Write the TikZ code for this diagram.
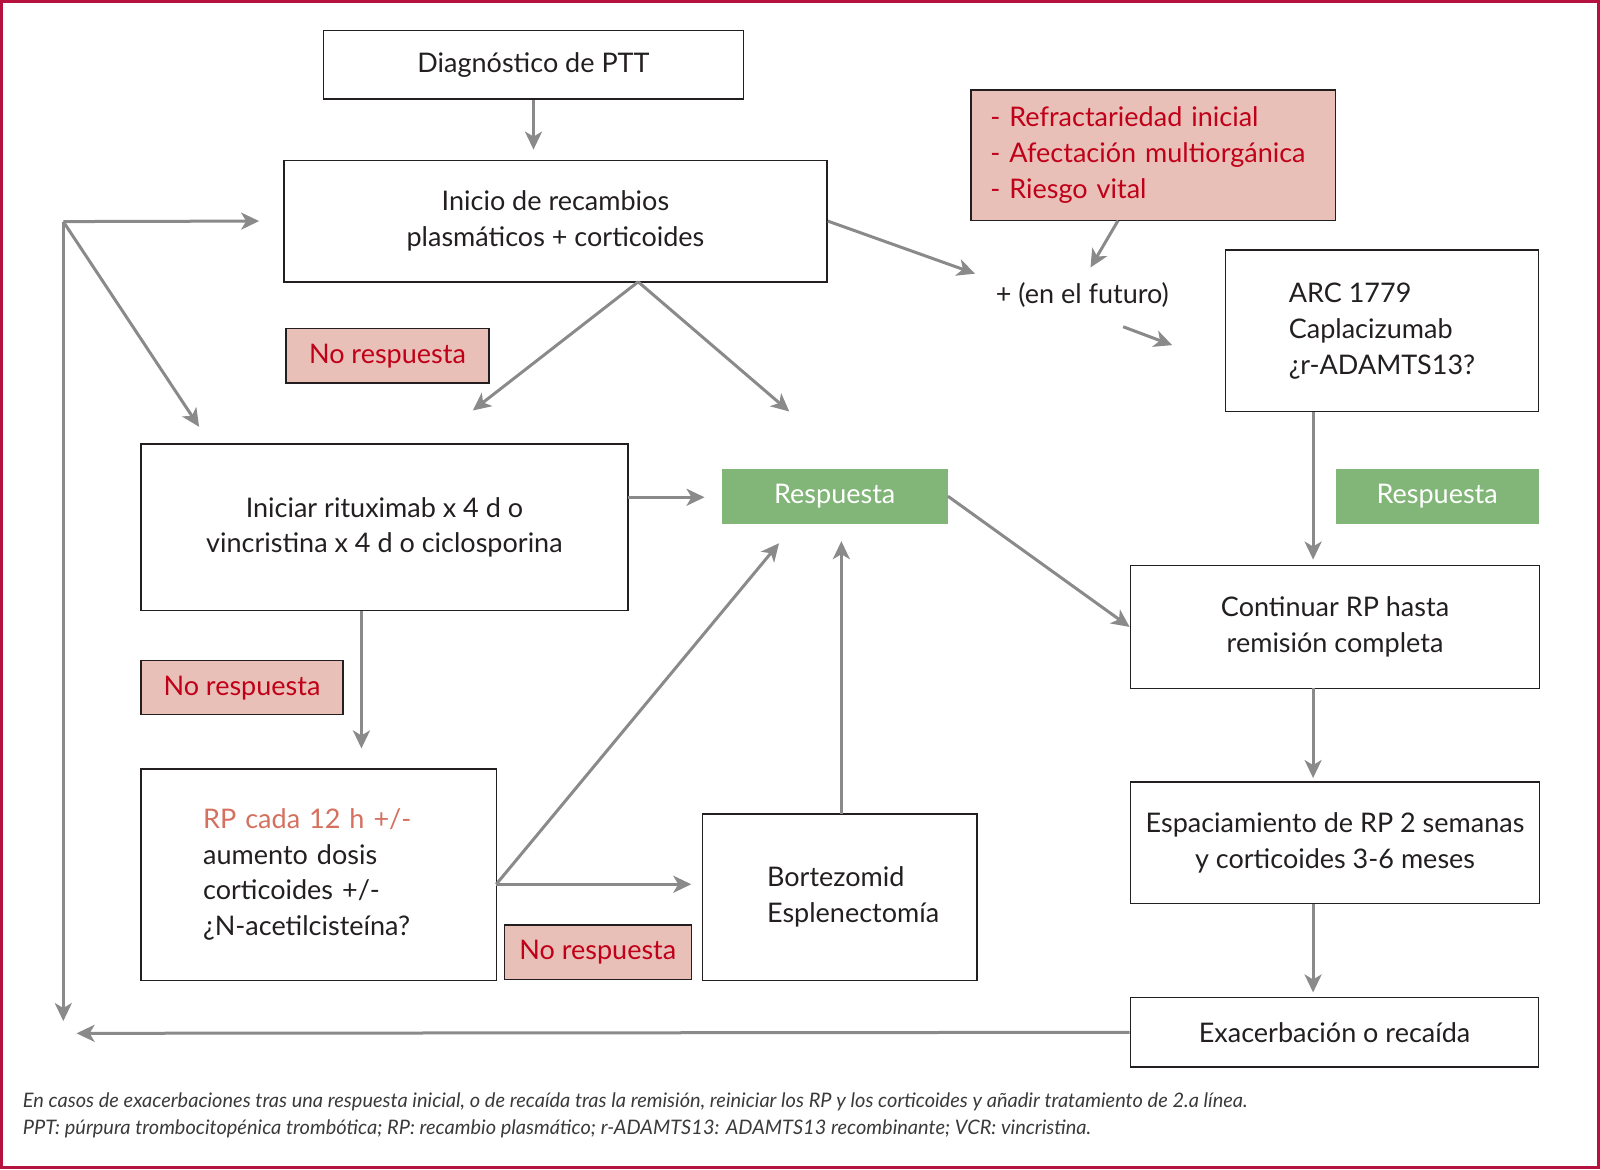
\documentclass[tikz,border=0pt]{standalone}
\usepackage{fontspec}
\setmainfont{Lato}
\newfontfamily\footfam{Lato Italic}
\usetikzlibrary{arrows.meta}
\definecolor{redc}{HTML}{C00018}
\definecolor{pinkc}{HTML}{E8C0B8}
\definecolor{greenc}{HTML}{82B678}
\definecolor{salmonc}{HTML}{D4705F}
\definecolor{arrc}{HTML}{8A8A8A}
\definecolor{framec}{HTML}{B5123F}
\definecolor{boxc}{HTML}{231F20}
\definecolor{footc}{HTML}{3A3A3A}
\tikzset{
  mainf/.style={font=\fontsize{13.5}{17.9}\selectfont},
  box/.style={draw=boxc, line width=0.7pt, inner sep=0pt, mainf, text=boxc, align=center},
  lbox/.style={box, align=left},
  nrbox/.style={box, fill=pinkc, text=redc},
  respbox/.style={draw=none, fill=greenc, text=white, inner sep=0pt, mainf},
  arr/.style={draw=arrc, line width=1.5pt, -{Stealth[length=9pt,width=8.5pt,inset=2.5pt]}},
  footnote/.style={anchor=base west, inner sep=0pt, text=footc, font=\footfam\fontsize{10}{13}\selectfont}
}
\begin{document}
\begin{tikzpicture}[x=0.5105pt,y=-0.5105pt]
\useasboundingbox (0,0) rectangle (1567,1145);
\draw[draw=framec, line width=1.6pt] (1.6,1.6) rectangle (1565.4,1143.4);

% boxes
\node[box, minimum width=209.82pt, minimum height=34.20pt] (diag) at (522.5,63.5) {Diagnóstico de PTT};
\node[box, minimum width=271.59pt, minimum height=60.75pt] (inicio) at (544,216.5) {Inicio de recambios\\plasmáticos + corticoides};
\node[nrbox, align=left, text width=162.9pt, minimum width=182.25pt, minimum height=65.34pt] (crit) at (1129.5,152) {- Refractariedad inicial\\- Afectación multiorgánica\\- Riesgo vital};
\node[mainf, text=boxc, inner sep=0pt] (futuro) at (1060,289) {+ (en el futuro)};
\node[lbox, minimum width=156.72pt, minimum height=80.66pt] (arc) at (1353.5,324) {ARC 1779\\Caplacizumab\\¿r-ADAMTS13?};
\node[nrbox, minimum width=101.59pt, minimum height=27.06pt] (nr1) at (379.5,348.5) {No respuesta};
\node[box, minimum width=243.51pt, minimum height=83.21pt] (ritux) at (376.5,516.5) {Iniciar rituximab x 4 d o\\vincristina x 4 d o ciclosporina};
\node[respbox, minimum width=112.82pt, minimum height=27.57pt] (resp1) at (817.5,486) {Respuesta};
\node[respbox, minimum width=101.59pt, minimum height=27.57pt] (resp2) at (1407.5,486) {Respuesta};
\node[box, minimum width=204.71pt, minimum height=61.26pt] (cont) at (1307.5,614) {Continuar RP hasta\\remisión completa};
\node[nrbox, minimum width=101.08pt, minimum height=27.06pt] (nr2) at (237,673.5) {No respuesta};
\node[lbox, text width=115.4pt, minimum width=177.65pt, minimum height=105.67pt] (rp) at (312,856.5) {\textcolor{salmonc}{RP cada 12 h +/-}\\aumento dosis\\corticoides +/-\\¿N-acetilcisteína?};
\node[lbox, minimum width=137.32pt, minimum height=83.21pt] (bort) at (822.5,878.5) {\hspace*{13.3pt}Bortezomid\\\hspace*{13.3pt}Esplenectomía};
\node[nrbox, minimum width=93.42pt, minimum height=27.06pt] (nr3) at (585.5,932.5) {No respuesta};
\node[box, minimum width=204.71pt, minimum height=60.75pt] (esp) at (1307.5,825.5) {Espaciamiento de RP 2 semanas\\y corticoides 3-6 meses};
\node[box, minimum width=204.2pt, minimum height=34.71pt] (exac) at (1307,1011) {Exacerbación o recaída};

% coordinates
\coordinate (c1) at (62,217);
\coordinate (c2) at (62,1000);
\coordinate (c3) at (75,1012);
\coordinate (c4) at (195,418);
\coordinate (i1) at (625,276);
\coordinate (i2) at (463,402);
\coordinate (i3) at (773,403);
\coordinate (f1) at (955,268);
\coordinate (k1) at (1095,216);
\coordinate (k2) at (1068,262);
\coordinate (g1) at (1100,320);
\coordinate (g2) at (1148,338);
\coordinate (a1) at (1286,403);
\coordinate (a2) at (1286,548);
\coordinate (r1) at (615,487);
\coordinate (r2) at (690,487);
\coordinate (r3) at (354,598);
\coordinate (r4) at (354,733);
\coordinate (p1) at (486,866);
\coordinate (p2) at (763,532);
\coordinate (p3) at (677,866);
\coordinate (b1) at (824,797);
\coordinate (b2) at (824,530);
\coordinate (e1) at (1286,674);
\coordinate (e2) at (1286,762);
\coordinate (e3) at (1286,885);
\coordinate (e4) at (1286,972);

% connectors
\draw[arr] (diag.south) -- ([yshift=5pt]diag.south |- inicio.north);
\draw[arr] (c1) -- ([xshift=-12pt]inicio.west);
\draw[arr] (c1) -- (c4);
\draw[arr] (c1) -- (c2);
\draw[arr] (exac.west) -- (c3);
\draw[arr] (i1) -- (i2);
\draw[arr] (i1) -- (i3);
\draw[arr] (inicio.east) -- (f1);
\draw[arr] (k1) -- (k2);
\draw[arr] (g1) -- (g2);
\draw[arr] (a1) -- (a2);
\draw[arr] (r1) -- (r2);
\draw[arr] (r3) -- (r4);
\draw[arr] (p1) -- (p2);
\draw[arr] (p1) -- (p3);
\draw[arr] (b1) -- (b2);
\draw[arr] (resp1.east) -- (cont.west);
\draw[arr] (e1) -- (e2);
\draw[arr] (e3) -- (e4);

% footer
\node[footnote] (foot1) at (22,1085) {En casos de exacerbaciones tras una respuesta inicial, o de recaída tras la remisión, reiniciar los RP y los corticoides y añadir tratamiento de 2.a línea.};
\node[footnote] (foot2) at (22,1111) {PPT: púrpura trombocitopénica trombótica; RP: recambio plasmático; r-ADAMTS13: ADAMTS13 recombinante; VCR: vincristina.};
\end{tikzpicture}
\end{document}
